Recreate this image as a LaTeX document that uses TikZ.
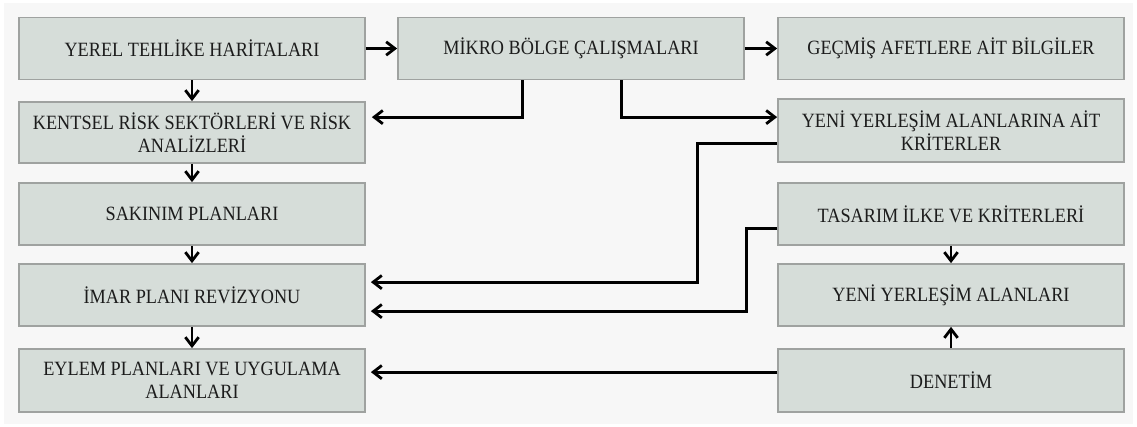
\documentclass[tikz,border=0pt]{standalone}
\usepackage{fontspec}
\setmainfont[FakeStretch=0.9]{Liberation Serif}
\usetikzlibrary{arrows.meta,calc}
\definecolor{bg}{HTML}{F7F7F7}
\definecolor{boxfill}{HTML}{D6DDD9}
\definecolor{boxline}{HTML}{9FA2A0}
\definecolor{txt}{HTML}{1C1C1C}
\begin{document}
\begin{tikzpicture}[x=0.75pt,y=-0.75pt,
  blk/.style={draw=boxline,line width=1.3pt,fill=boxfill,minimum width=346*0.75pt,
    inner sep=0pt,align=center,text=txt,font=\fontsize{15.2pt}{17.5pt}\selectfont},
  arr/.style={line width=2.1pt,-{Straight Barb[length=6.5pt,width=10pt]}}]
\useasboundingbox (0,0) rectangle (1137,427);
\fill[white] (0,0) rectangle (1137,427);
\fill[bg] (4,3) rectangle (1133,424);
% left column
\node[blk,minimum height=62*0.75pt] (yerel) at (192,48.5) {YEREL TEHL\.{I}KE HAR\.{I}TALARI};
\node[blk,minimum height=61*0.75pt] (kentsel) at (192,132.5) {KENTSEL R\.{I}SK SEKT\"{O}RLER\.{I} VE R\.{I}SK\\ANAL\.{I}ZLER\.{I}};
\node[blk,minimum height=62*0.75pt] (sakinim) at (192,214) {SAKINIM PLANLARI};
\node[blk,minimum height=62*0.75pt] (imar) at (192,295) {\.{I}MAR PLANI REV\.{I}ZYONU};
\node[blk,minimum height=63*0.75pt] (eylem) at (192,380.5) {EYLEM PLANLARI VE UYGULAMA\\ALANLARI};
% middle
\node[blk,minimum height=62*0.75pt] (mikro) at (571,48.5) {M\.{I}KRO B\"{O}LGE \c{C}ALI\c{S}MALARI};
% right column
\node[blk,minimum height=62*0.75pt] (gecmis) at (951,48.5) {GE\c{C}M\.{I}\c{S} AFETLERE A\.{I}T B\.{I}LG\.{I}LER};
\node[blk,minimum height=63*0.75pt] (kriter) at (951,130.5) {YEN\.{I} YERLE\c{S}\.{I}M ALANLARINA A\.{I}T\\KR\.{I}TERLER};
\node[blk,minimum height=62*0.75pt] (tasarim) at (951,214) {TASARIM \.{I}LKE VE KR\.{I}TERLER\.{I}};
\node[blk,minimum height=62*0.75pt] (yeni) at (951,295) {YEN\.{I} YERLE\c{S}\.{I}M ALANLARI};
\node[blk,minimum height=63*0.75pt] (denetim) at (951,380.5) {DENET\.{I}M};
% connectors
\draw[arr] (yerel.east) -- (mikro.west);
\draw[arr] (mikro.east) -- (gecmis.west);
\draw[arr] (yerel.south) -- (kentsel.north);
\draw[arr] (kentsel.south) -- (sakinim.north);
\draw[arr] (sakinim.south) -- (imar.north);
\draw[arr] (imar.south) -- (eylem.north);
\draw[arr] (tasarim.south) -- (yeni.north);
\draw[arr] (denetim.north) -- (yeni.south);
\draw[arr] ($(mikro.south west)+(125,0)$) |- ($(kentsel.north east)+(6,16)$);
\draw[arr] ($(mikro.south west)+(224,0)$) |- ($(kriter.north west)+(0,19)$);
\draw[arr] ($(kriter.north west)+(0,45)$) -- ++(-80,0) |- ($(imar.north east)+(5,19)$);
\draw[arr] ($(tasarim.north west)+(0,46)$) -- ++(-31,0) |- ($(imar.north east)+(5,48)$);
\draw[arr] ($(denetim.north west)+(0,24)$) -- ($(eylem.north east)+(5,24)$);
\end{tikzpicture}
\end{document}
